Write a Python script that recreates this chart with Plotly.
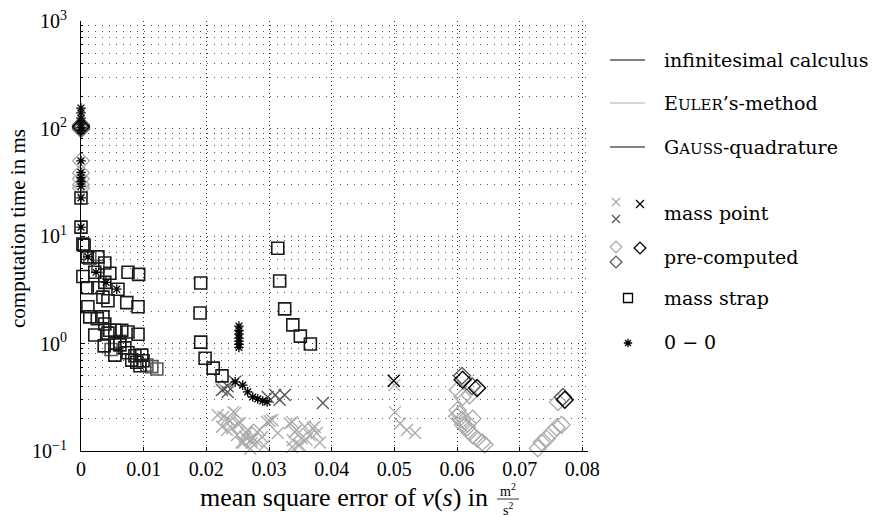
import plotly.graph_objects as go

# ---- measured data: mean square error of v(s) [m^2/s^2] vs. computation time [ms] ----

# mass point model (crosses)
mp_euler_x = [0.0218, 0.0246, 0.0233, 0.0225, 0.0241, 0.0254, 0.0266, 0.0249, 0.0262, 0.0274,
              0.0285, 0.0297, 0.0305, 0.0273, 0.0281, 0.0289, 0.0314, 0.0337, 0.0341, 0.0352,
              0.0365, 0.0346, 0.0337, 0.0373, 0.0360, 0.0228, 0.0256,
              0.0227, 0.0243, 0.0250, 0.0233, 0.0264, 0.0281, 0.0301, 0.0272, 0.0259, 0.0344,
              0.0357, 0.0370, 0.0381, 0.0338, 0.0349, 0.0333, 0.0376, 0.0238, 0.0292, 0.0270,
              0.0500, 0.0501, 0.0509, 0.0520, 0.0533]
mp_euler_y = [0.216, 0.225, 0.200, 0.168, 0.163, 0.182, 0.157, 0.141, 0.135, 0.132,
              0.157, 0.186, 0.194, 0.119, 0.121, 0.135, 0.147, 0.186, 0.150, 0.132,
              0.141, 0.114, 0.109, 0.168, 0.127, 0.380, 0.120,
              0.207, 0.230, 0.180, 0.157, 0.147, 0.150, 0.190, 0.126, 0.120, 0.157,
              0.168, 0.163, 0.120, 0.126, 0.114, 0.180, 0.147, 0.190, 0.112, 0.105,
              0.410, 0.230, 0.180, 0.157, 0.147]
mp_gauss_x = [0.0225, 0.0234, 0.0246, 0.0234, 0.0298, 0.0310, 0.0317, 0.0325, 0.0386]
mp_gauss_y = [0.369, 0.400, 0.440, 0.354, 0.318, 0.332, 0.300, 0.332, 0.280]
mp_inf_x = [0.0499]
mp_inf_y = [0.450]

# pre-computed model (diamonds)
pc_euler_x = [0.0, 0.0, 0.0, 0.0, 0.0, 0.0,
              0.0601, 0.0609, 0.0620, 0.0601, 0.0604, 0.0608, 0.0609, 0.0616, 0.0620, 0.0625,
              0.0632, 0.0640, 0.0644, 0.0625, 0.0617, 0.0600,
              0.0761, 0.0767, 0.0759, 0.0751, 0.0743, 0.0735, 0.0729]
pc_euler_y = [98, 50, 38.6, 34, 30, 28,
              0.37, 0.318, 0.33, 0.24, 0.22, 0.195, 0.175, 0.165, 0.15, 0.14,
              0.13, 0.12, 0.115, 0.20, 0.18, 0.21,
              0.285, 0.175, 0.165, 0.148, 0.13, 0.12, 0.106]
pc_gauss_x = [0.0, 0.0, 0.0608, 0.0624, 0.0769]
pc_gauss_y = [108, 100, 0.50, 0.40, 0.318]
pc_inf_x = [0.0, 0.0609, 0.0632, 0.0772]
pc_inf_y = [104, 0.46, 0.385, 0.30]

# mass strap model (squares)
ms_inf_x = [0.0, 0.0, 0.0003, 0.0005, 0.0010, 0.0027, 0.0038, 0.0022, 0.0046, 0.0075, 0.0092,
            0.0003, 0.0038, 0.0010, 0.0027, 0.0059, 0.0035, 0.0043, 0.0073, 0.0091, 0.0011,
            0.0014, 0.0035, 0.0026, 0.0038, 0.0046, 0.0022, 0.0043, 0.0054, 0.0065, 0.0075,
            0.0091, 0.0037, 0.0054, 0.0062, 0.0070, 0.0054, 0.0075, 0.0086, 0.0097, 0.0081,
            0.0089, 0.0099, 0.0094,
            0.0191, 0.0190, 0.0191, 0.0198, 0.0211, 0.0225,
            0.0314, 0.0317, 0.0325, 0.0338, 0.0350, 0.0366]
ms_inf_y = [22.6, 12.1, 8.4, 8.2, 6.4, 6.4, 5.6, 4.6, 4.5, 4.6, 4.4,
            4.2, 3.7, 3.3, 3.3, 3.2, 2.7, 2.5, 2.4, 2.2, 2.2,
            1.77, 1.77, 1.70, 1.52, 1.33, 1.20, 1.25, 1.33, 1.33, 1.28,
            1.22, 0.95, 1.00, 0.97, 0.91, 0.78, 0.82, 0.77, 0.78, 0.70,
            0.67, 0.69, 0.62,
            3.65, 1.92, 1.03, 0.73, 0.59, 0.50,
            7.7, 3.81, 2.10, 1.49, 1.17, 0.99]
ms_gauss_x = [0.0014, 0.0027, 0.0105, 0.0113, 0.0121, 0.0062, 0.0048]
ms_gauss_y = [6.2, 5.2, 0.63, 0.61, 0.58, 1.05, 0.88]

# 0-0 reference (asterisks)
zz_x = [0.0, 0.0, 0.0, 0.0, 0.0, 0.0, 0.0, 0.0, 0.0, 0.0, 0.0, 0.0, 0.0,
        0.0011, 0.0024, 0.0040, 0.0057,
        0.0252, 0.0252, 0.0252, 0.0252, 0.0252, 0.0252, 0.0252,
        0.0246, 0.0258, 0.0266, 0.0274, 0.0282, 0.0290, 0.0297]
zz_y = [155, 140, 125, 112, 102, 96, 50, 39, 35, 32, 29, 22.6, 12.1,
        6.4, 4.6, 3.7, 3.2,
        1.45, 1.32, 1.22, 1.12, 1.05, 0.98, 0.92,
        0.44, 0.41, 0.355, 0.318, 0.305, 0.292, 0.286]

# axis ticks
x_ticks = [0, 0.01, 0.02, 0.03, 0.04, 0.05, 0.06, 0.07, 0.08]
x_ticktext = ["0", "0.01", "0.02", "0.03", "0.04", "0.05", "0.06", "0.07", "0.08"]
y_ticks = [0.1, 1, 10, 100, 1000]
y_ticktext = ["10<sup>−1</sup>", "10<sup>0</sup>", "10<sup>1</sup>", "10<sup>2</sup>", "10<sup>3</sup>"]

# ---- styling ----
C_INF = "#000000"
C_EULER = "#ababab"
C_GAUSS = "#5a5a5a"
W, H = 880, 517
PX_L, PX_R, PX_T, PX_B = 81, 588, 21, 451
SERIF = "Liberation Serif"
TICK_FONT = dict(family=SERIF, size=20, color="black")
TITLE_FONT = dict(family=SERIF, size=26, color="black")
YTITLE_FONT = dict(family=SERIF, size=21, color="black")
LEG_FONT = dict(family="DejaVu Serif", size=19, color="black")


def fx(px):
    return px / W


def fy(py):
    return 1 - py / H


fig = go.Figure()


def add_points(xs, ys, symbol, color, size, lw):
    fig.add_trace(go.Scatter(
        x=xs, y=ys, mode="markers", cliponaxis=False, showlegend=False,
        marker=dict(symbol=symbol, size=size, color=color,
                    line=dict(color=color, width=lw)),
        hoverinfo="skip"))


add_points(mp_euler_x, mp_euler_y, "x-thin-open", C_EULER, 12, 1.3)
add_points(pc_euler_x, pc_euler_y, "diamond-open", C_EULER, 13, 1.3)
add_points(mp_gauss_x, mp_gauss_y, "x-thin-open", C_GAUSS, 12, 1.4)
add_points(mp_inf_x, mp_inf_y, "x-thin-open", C_INF, 12, 1.4)
add_points(pc_gauss_x, pc_gauss_y, "diamond-open", C_GAUSS, 13, 1.4)
add_points(pc_inf_x, pc_inf_y, "diamond-open", C_INF, 13, 1.4)
add_points(ms_gauss_x, ms_gauss_y, "square-open", C_GAUSS, 12, 1.6)
add_points(ms_inf_x, ms_inf_y, "square-open", "#1a1a1a", 12, 1.6)
add_points(zz_x, zz_y, "asterisk-open", C_INF, 8, 1.3)

# ---- legend (drawn by hand to the right of the axes) ----
leg_lines = [("infinitesimal calculus", C_INF, 1.0, 60),
             ("E<span style='font-size:15px'>ULER</span>’s-method", C_EULER, 1.2, 103),
             ("G<span style='font-size:15px'>AUSS</span>-quadrature", C_GAUSS, 1.6, 147)]
shapes = []
annotations = []
for label, col, lw, yy in leg_lines:
    shapes.append(dict(type="line", xref="paper", yref="paper", x0=fx(610), x1=fx(645),
                       y0=fy(yy), y1=fy(yy), line=dict(color=col, width=lw)))
    annotations.append(dict(xref="paper", yref="paper", x=fx(662), y=fy(yy), text=label,
                            showarrow=False, xanchor="left", yanchor="middle", font=LEG_FONT))

leg_marks = [("mass point", 213, [(616, 202, C_EULER), (616, 219, C_GAUSS), (640, 204, C_INF)], "x-thin-open", 8),
             ("pre-computed", 257, [(616, 247, C_EULER), (616, 262, C_GAUSS), (640, 248, C_INF)], "diamond-open", 9),
             ("mass strap", 298, [(628, 298, C_INF)], "square-open", 9),
             ("0 − 0", 342, [(628, 343, C_INF)], "asterisk-open", 7)]
for label, yy, pts, sym, sz in leg_marks:
    fig.add_trace(go.Scatter(
        x=[p[0] for p in pts], y=[p[1] for p in pts], xaxis="x2", yaxis="y2",
        mode="markers", showlegend=False, hoverinfo="skip", cliponaxis=False,
        marker=dict(symbol=sym, size=sz, color=[p[2] for p in pts],
                    line=dict(color=[p[2] for p in pts], width=1.3))))
    annotations.append(dict(xref="paper", yref="paper", x=fx(662), y=fy(yy), text=label,
                            showarrow=False, xanchor="left", yanchor="middle", font=LEG_FONT))

# ---- axis titles ----
annotations.append(dict(xref="paper", yref="paper", x=fx(490), y=fy(497),
                        text="mean square error of <i>v</i>(<i>s</i>) in", showarrow=False,
                        xanchor="right", yanchor="middle", font=TITLE_FONT))
annotations.append(dict(xref="paper", yref="paper", x=fx(508), y=fy(490), text="m<sup>2</sup>",
                        showarrow=False, xanchor="center", yanchor="middle",
                        font=dict(family=SERIF, size=14, color="black")))
annotations.append(dict(xref="paper", yref="paper", x=fx(508), y=fy(509), text="s<sup>2</sup>",
                        showarrow=False, xanchor="center", yanchor="middle",
                        font=dict(family=SERIF, size=14, color="black")))
shapes.append(dict(type="line", xref="paper", yref="paper", x0=fx(497), x1=fx(519),
                   y0=fy(499), y1=fy(499), line=dict(color="black", width=0.8)))
annotations.append(dict(xref="paper", yref="paper", x=fx(18), y=fy(229),
                        text="computation time in ms", showarrow=False, textangle=-90,
                        xanchor="center", yanchor="middle", font=YTITLE_FONT))

y_minor = [m * 10 ** e for e in range(-1, 3) for m in range(2, 10)]

fig.update_layout(
    width=W, height=H,
    margin=dict(l=0, r=0, t=0, b=0),
    paper_bgcolor="white", plot_bgcolor="rgba(0,0,0,0)",
    xaxis=dict(domain=[fx(PX_L), fx(PX_R)], range=[0, 0.0809], showline=True,
               linecolor="black", linewidth=1.2, zeroline=False,
               tickvals=x_ticks, ticktext=x_ticktext, ticks="inside", ticklen=4,
               tickcolor="black", tickfont=TICK_FONT, ticklabelstandoff=0, showgrid=True,
               gridcolor="#333333", gridwidth=1, griddash="1px,3px", automargin=False),
    yaxis=dict(domain=[fy(PX_B), fy(PX_T)], type="log", range=[-1, 3],
               showline=True, linecolor="black", linewidth=1.2, zeroline=False,
               tickvals=y_ticks, ticktext=y_ticktext, ticks="inside", ticklen=4,
               tickcolor="black", tickfont=TICK_FONT, ticklabelstandoff=9, showgrid=True,
               gridcolor="#333333", gridwidth=1, griddash="1px,6px", automargin=False,
               minor=dict(tickvals=y_minor, showgrid=True, gridcolor="#555555",
                          gridwidth=1, griddash="1px,6px", ticks="inside", ticklen=2,
                          tickcolor="black")),
    xaxis2=dict(domain=[0, 1], range=[0, W], anchor="y2", visible=False, fixedrange=True),
    yaxis2=dict(domain=[0, 1], range=[H, 0], anchor="x2", visible=False, fixedrange=True),
    shapes=shapes, annotations=annotations,
)

fig.write_html("out.html")
